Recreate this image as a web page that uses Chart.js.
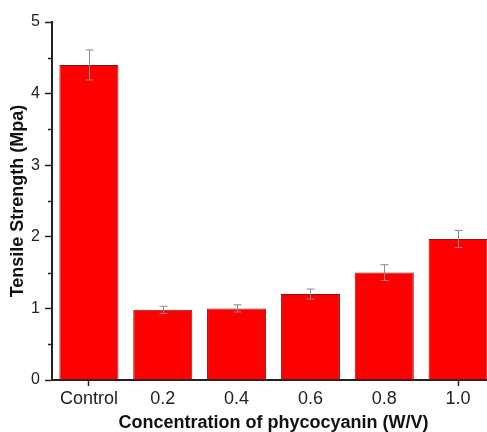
<!DOCTYPE html>
<html>
<head>
<meta charset="utf-8">
<script src="https://cdn.jsdelivr.net/npm/chart.js@4"></script>
<style>
  html, body { margin: 0; padding: 0; background: #fff; overflow: hidden; }
  #wrap { width: 495px; height: 432px; }
</style>
</head>
<body>
<div id="wrap"><canvas id="c"></canvas></div>
<script>
// values
const categories = ['Control', '0.2', '0.4', '0.6', '0.8', '1.0'];
const strength = [4.40, 0.98, 1.00, 1.20, 1.50, 1.97];
const strengthErr = [0.21, 0.05, 0.05, 0.07, 0.11, 0.12];
const yTicks = [0, 1, 2, 3, 4, 5];
const yMinorTicks = [0.5, 1.5, 2.5, 3.5, 4.5];

// error bars on top of each bar
const errorBars = {
  id: 'errorBars',
  afterDatasetsDraw(chart) {
    const ctx = chart.ctx;
    const y = chart.scales.y;
    const meta = chart.getDatasetMeta(0);
    ctx.save();
    ctx.strokeStyle = '#8a8a8a';
    ctx.lineWidth = 1;
    meta.data.forEach((bar, i) => {
      const x = Math.round(bar.x) + 0.5;
      const hi = y.getPixelForValue(strength[i] + strengthErr[i]);
      const lo = y.getPixelForValue(strength[i] - strengthErr[i]);
      ctx.beginPath();
      ctx.moveTo(x, hi); ctx.lineTo(x, lo);
      ctx.moveTo(x - 4, hi); ctx.lineTo(x + 4, hi);
      ctx.moveTo(x - 4, lo); ctx.lineTo(x + 4, lo);
      ctx.stroke();
    });
    ctx.restore();
  }
};

// short minor ticks on the y axis
const minorTicks = {
  id: 'minorTicks',
  afterDraw(chart) {
    const ctx = chart.ctx;
    const y = chart.scales.y;
    ctx.save();
    ctx.strokeStyle = '#222';
    ctx.lineWidth = 1.5;
    yMinorTicks.forEach(v => {
      const py = Math.round(y.getPixelForValue(v)) + 0.5;
      ctx.beginPath();
      ctx.moveTo(y.right - 4, py); ctx.lineTo(y.right, py);
      ctx.stroke();
    });
    ctx.restore();
  }
};

new Chart(document.getElementById('c'), {
  type: 'bar',
  data: {
    labels: categories,
    datasets: [{
      data: strength,
      backgroundColor: '#ff0000',
      borderColor: '#8b1010',
      borderWidth: 1,
      barPercentage: 0.8,
      categoryPercentage: 1.0
    }]
  },
  options: {
    responsive: true,
    maintainAspectRatio: false,
    animation: false,
    layout: { padding: { top: 22, right: 0, bottom: 0, left: 0 } },
    plugins: { legend: { display: false }, tooltip: { enabled: false } },
    scales: {
      x: {
        afterFit(scale) { scale.height = 52; },
        border: { display: true, color: '#222', width: 2 },
        grid: {
          display: true,
          offset: false,
          drawOnChartArea: false,
          tickLength: 6,
          tickWidth: 1.5,
          tickColor: c => (c.index === 0 || c.index === categories.length - 1) ? '#222' : 'rgba(0,0,0,0)'
        },
        ticks: {
          padding: 2,
          color: '#222',
          font: { family: 'Liberation Sans, Arial, sans-serif', size: 18 }
        },
        title: {
          display: true,
          text: 'Concentration of phycocyanin (W/V)',
          color: '#111',
          padding: { top: 0, bottom: -2 },
          font: { family: 'Liberation Sans, Arial, sans-serif', size: 18, weight: 'bold' }
        }
      },
      y: {
        min: 0,
        max: 5,
        afterFit(scale) { scale.width = 52; },
        afterBuildTicks(scale) { scale.ticks = yTicks.map(v => ({ value: v })); },
        border: { display: true, color: '#222', width: 2 },
        grid: {
          display: true,
          drawOnChartArea: false,
          tickLength: 7,
          tickWidth: 1.5,
          tickColor: '#222'
        },
        ticks: {
          padding: 5,
          color: '#222',
          font: { family: 'Liberation Sans, Arial, sans-serif', size: 16 }
        },
        title: {
          display: true,
          text: 'Tensile Strength (Mpa)',
          color: '#111',
          padding: { top: 7, bottom: 0 },
          font: { family: 'Liberation Sans, Arial, sans-serif', size: 18, weight: 'bold' }
        }
      }
    }
  },
  plugins: [errorBars, minorTicks]
});
</script>
</body>
</html>
